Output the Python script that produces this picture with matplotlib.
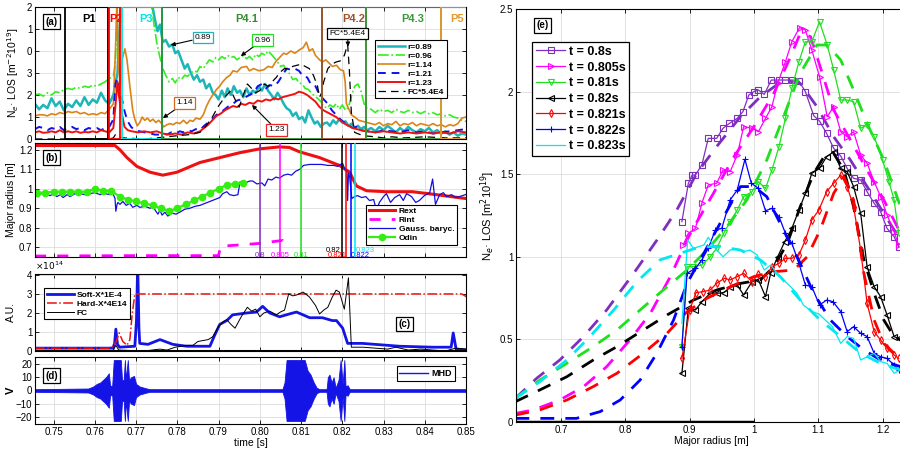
import matplotlib
matplotlib.use("Agg")
import matplotlib.pyplot as plt
from matplotlib.patches import Rectangle
import numpy as np

plt.rcParams['font.family'] = ['Liberation Sans', 'DejaVu Sans']
plt.rcParams['font.size'] = 7
plt.rcParams['axes.linewidth'] = 0.8

# ---------------- (a) line-integrated density per chord ----------------
phase_names = ['P1', 'P2', 'P3', 'P4.1', 'P4.2', 'P4.3', 'P5']
phase_start = [0.7528, 0.7634, 0.7666, 0.7763, 0.8152, 0.8257, 0.8440]
phase_end = [0.7632, 0.7661, 0.7763, 0.8152, 0.8257, 0.8440, 0.8560]
phase_colors = ['black', 'red', '#00e6e6', '#2f8f2f', '#a0522d', '#3a9a3a', '#e39a2d']
phase_label_x = [0.7585, 0.7652, 0.7725, 0.7968, 0.8228, 0.8370, 0.8478]

t_089 = [0.7455, 0.7465, 0.7475, 0.7485, 0.7495, 0.7505, 0.7515, 0.7525, 0.7535, 0.7545,
         0.7555, 0.7565, 0.7575, 0.7585, 0.7595, 0.7605, 0.7615, 0.7625, 0.7635, 0.7645,
         0.7655, 0.766, 0.7665, 0.770, 0.7735, 0.7745, 0.7752, 0.7758, 0.7765, 0.7772,
         0.778, 0.7788, 0.7795, 0.7802, 0.781, 0.7818, 0.7825, 0.7833, 0.784, 0.7848,
         0.7855, 0.7863, 0.787, 0.7878, 0.7886, 0.7893, 0.79, 0.7908, 0.7915, 0.7922,
         0.793, 0.7937, 0.7945, 0.7952, 0.796, 0.7968, 0.7975, 0.7983, 0.799, 0.7998,
         0.8005, 0.8013, 0.802, 0.8028, 0.8035, 0.8043, 0.805, 0.8058, 0.8065, 0.8073,
         0.808, 0.8088, 0.8095, 0.8103, 0.811, 0.8118, 0.8125, 0.8133, 0.814, 0.8148,
         0.8155, 0.8163, 0.817, 0.8178, 0.8185, 0.8193, 0.82, 0.8208, 0.8215, 0.8223,
         0.823, 0.8238, 0.8245, 0.8253, 0.826, 0.827, 0.828, 0.829, 0.83, 0.831,
         0.832, 0.833, 0.834, 0.835, 0.836, 0.837, 0.838, 0.839, 0.84, 0.841,
         0.842, 0.843, 0.844, 0.845, 0.846, 0.847, 0.848, 0.849, 0.85]
n_089 = [1.6, 1.35, 1.55, 1.4, 1.85, 1.5, 1.7, 1.3, 1.6, 1.45,
         1.75, 1.5, 1.9, 1.55, 1.8, 1.65, 2.1, 1.75, 1.6, 2.0,
         3.0, 5.0, 6.5, 6.5, 6.5, 5.5, 4.9, 5.2, 4.4, 4.5,
         4.2, 4.3, 3.9, 4.0, 3.6, 3.2, 3.4, 3.0, 2.7, 2.9,
         2.6, 2.7, 2.3, 2.5, 2.1, 2.0, 1.8, 2.2, 1.9, 2.3,
         2.0, 2.4, 2.1, 2.2, 1.9, 2.3, 2.0, 2.2, 2.1, 2.4,
         2.2, 2.5, 2.2, 2.0, 1.8, 2.1, 1.9, 1.6, 1.4, 1.3,
         1.05, 1.2, 0.9, 1.0, 0.75, 1.3, 1.0, 0.7, 0.8, 0.55,
         0.7, 0.75, 0.6, 0.85, 0.7, 0.9, 0.75, 0.8, 0.6, 0.7,
         0.5, 0.6, 0.45, 0.55, 0.4, 0.5, 0.35, 0.55, 0.4, 0.6,
         0.45, 0.3, 0.5, 0.35, 0.55, 0.4, 0.3, 0.45, 0.35, 0.5,
         0.3, 0.4, 0.25, 0.35, 0.2, 0.3, 0.15, 0.25, 0.2]

t_096 = [0.7455, 0.7465, 0.7475, 0.7485, 0.7495, 0.7505, 0.7515, 0.7525, 0.7535, 0.7545,
         0.7555, 0.7565, 0.7575, 0.7585, 0.7595, 0.7605, 0.7615, 0.7625, 0.7635, 0.7645,
         0.765, 0.7655, 0.7735, 0.7742, 0.775, 0.7758, 0.7765, 0.7772, 0.778, 0.7788,
         0.7795, 0.7802, 0.781, 0.7818, 0.7825, 0.7833, 0.784, 0.7848, 0.7855, 0.7863,
         0.787, 0.7878, 0.7886, 0.7893, 0.79, 0.7908, 0.7915, 0.7922, 0.793, 0.7937,
         0.7945, 0.7952, 0.796, 0.7968, 0.7975, 0.7983, 0.799, 0.7998, 0.8005, 0.8013,
         0.802, 0.8028, 0.8035, 0.8043, 0.805, 0.8058, 0.8065, 0.8073, 0.808, 0.8088,
         0.8095, 0.8103, 0.811, 0.8118, 0.8125, 0.8133, 0.814, 0.8148, 0.8155, 0.8163,
         0.817, 0.8178, 0.8185, 0.8193, 0.82, 0.8208, 0.8215, 0.8223, 0.823, 0.8238,
         0.8245, 0.8253, 0.826, 0.827, 0.828, 0.829, 0.83, 0.831, 0.832, 0.833,
         0.834, 0.835, 0.836, 0.837, 0.838, 0.839, 0.84, 0.841, 0.842, 0.843,
         0.844, 0.845, 0.846, 0.847, 0.848, 0.849, 0.85]
n_096 = [2.0, 2.05, 1.95, 2.1, 2.0, 2.15, 2.1, 2.25, 2.3, 2.25,
         2.35, 2.3, 2.4, 2.35, 2.45, 2.4, 2.5, 2.6, 2.75, 2.85,
         3.5, 6.5, 6.5, 5.4, 4.4, 3.7, 3.2, 2.9, 2.6, 2.75,
         2.55, 2.8, 2.7, 2.9, 2.85, 3.0, 3.1, 3.05, 3.3, 3.2,
         3.4, 3.6, 3.5, 3.7, 3.6, 3.75, 3.65, 3.8, 3.7, 3.75,
         3.6, 3.7, 3.8, 3.65, 3.75, 3.6, 3.85, 3.75, 3.9, 3.8,
         4.0, 3.85, 3.7, 3.5, 3.3, 3.35, 3.1, 2.95, 2.7, 2.75,
         2.55, 2.5, 2.3, 2.25, 2.1, 1.95, 1.85, 1.7, 1.5, 1.4,
         1.55, 1.45, 1.6, 1.35, 1.55, 1.3, 1.45, 2.0, 2.4, 2.5,
         2.2, 1.6, 1.4, 1.35, 1.2, 1.35, 1.25, 1.3, 1.2, 1.35,
         1.25, 1.2, 1.3, 1.2, 1.25, 1.15, 1.25, 1.15, 1.2, 1.1,
         1.15, 1.05, 1.1, 1.0, 0.95, 0.85, 0.8]

t_114 = [0.7455, 0.7465, 0.7475, 0.7485, 0.7495, 0.7505, 0.7515, 0.7525, 0.7535, 0.7545,
         0.7555, 0.7565, 0.7575, 0.7585, 0.7595, 0.7605, 0.7615, 0.7625, 0.7635, 0.7645,
         0.765, 0.7654, 0.7656, 0.7661, 0.7666, 0.7673, 0.7678, 0.7685, 0.7692, 0.7697,
         0.7703, 0.7709, 0.7715, 0.7721, 0.7728, 0.7734, 0.7741, 0.7748, 0.7755, 0.7762,
         0.7767, 0.7775, 0.7782, 0.779, 0.7798, 0.7806, 0.7815, 0.7823, 0.7831, 0.7838,
         0.7845, 0.7855, 0.7863, 0.7871, 0.7879, 0.7886, 0.7895, 0.7903, 0.791, 0.792,
         0.7928, 0.7935, 0.7945, 0.7955, 0.7968, 0.7975, 0.7985, 0.7998, 0.801, 0.802,
         0.803, 0.8038, 0.8048, 0.8058, 0.8065, 0.8075, 0.8085, 0.8096, 0.8105, 0.8113,
         0.812, 0.8128, 0.8135, 0.8145, 0.8152, 0.816, 0.8168, 0.8176, 0.8186, 0.8195,
         0.8203, 0.8207, 0.821, 0.8215, 0.8222, 0.823, 0.824, 0.825, 0.826, 0.827,
         0.828, 0.829, 0.83, 0.831, 0.832, 0.833, 0.834, 0.835, 0.836, 0.837,
         0.838, 0.839, 0.84, 0.841, 0.842, 0.843, 0.844, 0.845, 0.846, 0.847,
         0.848, 0.849, 0.85]
n_114 = [1.05, 1.1, 1.1, 1.05, 1.15, 1.1, 1.2, 1.15, 1.25, 1.2,
         1.25, 1.15, 1.2, 1.1, 1.15, 1.1, 1.2, 1.15, 1.35, 1.6,
         4.0, 6.5, 4.1, 2.4, 3.6, 4.1, 3.6, 2.4, 1.3, 0.9,
         0.6, 0.75, 1.0, 0.85, 0.95, 0.8, 0.9, 0.75, 0.85, 0.7,
         0.55, 0.65, 0.7, 0.65, 0.75, 0.7, 0.85, 0.7, 0.85, 0.8,
         0.95, 0.9, 1.1, 1.5, 1.8, 2.0, 2.25, 2.4, 2.6, 2.8,
         2.9, 3.1, 3.05, 3.25, 3.3, 3.1, 3.2, 3.1, 3.15, 3.3,
         3.25, 3.5, 3.7, 3.9, 3.85, 4.0, 3.9, 4.05, 4.15, 4.4,
         4.0, 4.1, 3.8, 3.6, 3.5, 3.6, 3.45, 3.3, 3.35, 3.15,
         3.1, 2.6, 1.6, 1.4, 1.1, 1.0, 0.85, 0.8, 0.75, 0.7,
         0.65, 0.75, 0.6, 0.7, 0.65, 0.8, 0.6, 0.7, 0.65, 0.75,
         0.6, 0.7, 0.65, 0.6, 0.7, 0.6, 0.65, 0.55, 0.65, 0.6,
         0.7, 0.95, 1.0]

t_121 = [0.7455, 0.7465, 0.7475, 0.7485, 0.7495, 0.7505, 0.7515, 0.7525, 0.7535, 0.7545,
         0.7555, 0.7565, 0.7575, 0.7585, 0.7595, 0.7605, 0.7615, 0.7625, 0.7635, 0.7645,
         0.765, 0.7654, 0.7658, 0.7666, 0.7673, 0.768, 0.7688, 0.7697, 0.7709, 0.7721,
         0.7734, 0.7746, 0.7758, 0.7765, 0.7775, 0.7785, 0.7795, 0.7806, 0.7815, 0.7825,
         0.7835, 0.7845, 0.7855, 0.7865, 0.7875, 0.7885, 0.7895, 0.7905, 0.7915, 0.7925,
         0.7935, 0.7945, 0.7955, 0.7965, 0.7975, 0.7985, 0.7995, 0.8005, 0.8015, 0.8025,
         0.8035, 0.8045, 0.8055, 0.8065, 0.8075, 0.8085, 0.8095, 0.8105, 0.8115, 0.8125,
         0.8135, 0.8145, 0.8155, 0.8165, 0.8175, 0.8185, 0.8195, 0.8205, 0.8215, 0.8225,
         0.8235, 0.8245, 0.826, 0.828, 0.83, 0.832, 0.834, 0.836, 0.838, 0.84,
         0.842, 0.844, 0.846, 0.848, 0.85]
n_121 = [0.45, 0.55, 0.5, 0.4, 0.5, 0.45, 0.55, 0.4, 0.5, 0.55,
         0.45, 0.5, 0.4, 0.5, 0.45, 0.5, 0.4, 0.5, 0.55, 0.9,
         2.5, 2.75, 2.3, 1.8, 1.2, 0.8, 0.55, 0.4, 0.35, 0.3,
         0.25, 0.2, 0.2, 0.25, 0.2, 0.3, 0.25, 0.35, 0.3, 0.4,
         0.35, 0.45, 0.4, 0.6, 0.75, 0.9, 1.1, 1.2, 1.35, 1.5,
         1.6, 1.75, 1.8, 1.9, 2.0, 2.1, 2.4, 2.5, 2.3, 2.45,
         2.4, 2.6, 2.9, 3.2, 3.15, 3.2, 3.1, 2.85, 2.8, 2.45,
         2.4, 2.0, 1.8, 1.6, 1.3, 1.1, 0.9, 0.75, 0.65, 0.5,
         0.55, 0.4, 0.35, 0.3, 0.4, 0.35, 0.3, 0.4, 0.3, 0.35,
         0.25, 0.3, 0.35, 0.4, 0.45]

t_123 = [0.7455, 0.7465, 0.7475, 0.7485, 0.7495, 0.7505, 0.7515, 0.7525, 0.7535, 0.7545,
         0.7555, 0.7565, 0.7575, 0.7585, 0.7595, 0.7605, 0.7615, 0.7625, 0.7635, 0.7645,
         0.765, 0.7655, 0.7659, 0.7664, 0.7672, 0.768, 0.769, 0.7705, 0.772, 0.7735,
         0.775, 0.7765, 0.778, 0.7795, 0.781, 0.7825, 0.784, 0.7855, 0.7865, 0.7875,
         0.7885, 0.7895, 0.7905, 0.7915, 0.7925, 0.7935, 0.7945, 0.7955, 0.7965, 0.7975,
         0.7985, 0.7995, 0.8005, 0.8015, 0.8025, 0.8035, 0.8045, 0.8055, 0.8065, 0.8075,
         0.8085, 0.8095, 0.8105, 0.8115, 0.8125, 0.8135, 0.8145, 0.8155, 0.8165, 0.8175,
         0.8185, 0.8195, 0.8205, 0.8215, 0.8225, 0.8235, 0.8245, 0.826, 0.828, 0.83,
         0.832, 0.834, 0.836, 0.838, 0.84, 0.842, 0.844, 0.846, 0.848, 0.85]
n_123 = [0.3, 0.35, 0.28, 0.3, 0.35, 0.3, 0.4, 0.3, 0.35, 0.3,
         0.35, 0.28, 0.32, 0.3, 0.35, 0.3, 0.4, 0.35, 0.3, 0.5,
         1.5, 2.6, 1.9, 1.3, 0.55, 0.4, 0.35, 0.3, 0.35, 0.3,
         0.35, 0.25, 0.2, 0.25, 0.2, 0.3, 0.25, 0.35, 0.5, 0.65,
         0.85, 1.05, 1.15, 1.3, 1.4, 1.5, 1.45, 1.6, 1.55, 1.65,
         1.6, 1.75, 1.7, 1.8, 1.75, 1.85, 1.8, 1.9, 1.95, 2.0,
         2.05, 2.15, 2.1, 2.0, 1.85, 1.7, 1.45, 1.3, 1.2, 1.1,
         1.0, 0.85, 0.7, 0.6, 0.5, 0.45, 0.4, 0.35, 0.3, 0.35,
         0.3, 0.25, 0.3, 0.25, 0.3, 0.25, 0.3, 0.25, 0.35, 0.3]

t_fca = [0.7455, 0.7635, 0.7645, 0.765, 0.7655, 0.767, 0.772, 0.775, 0.7775, 0.78,
         0.783, 0.7855, 0.787, 0.7885, 0.79, 0.7915, 0.793, 0.794, 0.795, 0.796,
         0.797, 0.798, 0.799, 0.8, 0.801, 0.802, 0.803, 0.804, 0.805, 0.806,
         0.807, 0.808, 0.809, 0.81, 0.811, 0.812, 0.813, 0.814, 0.8145, 0.815,
         0.8155, 0.8165, 0.8175, 0.8185, 0.8195, 0.8205, 0.8213, 0.8217, 0.8222, 0.823,
         0.825, 0.828, 0.83, 0.832, 0.835, 0.84, 0.845, 0.85]
n_fca = [0.0, 0.0, 0.05, 0.2, 0.1, 0.05, 0.0, 0.05, 0.1, 0.15,
         0.2, 0.3, 0.6, 1.0, 1.5, 1.9, 2.2, 1.8, 1.45, 2.0,
         2.5, 2.3, 2.1, 2.2, 2.5, 2.4, 2.6, 2.8, 3.05, 3.2,
         3.2, 3.3, 3.35, 3.4, 3.3, 3.2, 2.9, 2.4, 1.9, 2.1,
         2.6, 3.2, 3.4, 3.5, 3.55, 3.8, 4.3, 3.2, 1.2, 0.3,
         0.15, 0.1, 0.05, 0.1, 0.05, 0.1, 0.05, 0.05]

# ---------------- (b) plasma position ----------------
t_rext = [0.7455, 0.7649, 0.7661, 0.7678, 0.7702, 0.7734, 0.7765, 0.7799, 0.7855, 0.7903,
          0.7951, 0.8, 0.8048, 0.8072, 0.8096, 0.8145, 0.8193, 0.8218, 0.8234, 0.8259,
          0.8307, 0.837, 0.8428, 0.85]
rext = [1.222, 1.222, 1.2, 1.16, 1.115, 1.085, 1.07, 1.085, 1.135, 1.16,
        1.185, 1.205, 1.215, 1.212, 1.19, 1.16, 1.12, 1.085, 1.015, 0.99,
        0.985, 0.985, 0.97, 0.95]

t_rint = [0.7455, 0.7700, 0.7900, 0.7905, 0.797, 0.8, 0.8055, 0.8065]
rint = [0.655, 0.657, 0.657, 0.705, 0.715, 0.72, 0.735, 0.70]

t_gauss = [0.7455, 0.7479, 0.7492, 0.7499, 0.7508, 0.7516, 0.7523, 0.7533, 0.7540, 0.7552,
           0.7564, 0.7576, 0.7588, 0.7600, 0.7613, 0.7625, 0.7637, 0.7644, 0.7649, 0.7651,
           0.7654, 0.7656, 0.7661, 0.7668, 0.7676, 0.7685, 0.7692, 0.7702, 0.7709, 0.7722,
           0.7734, 0.7741, 0.7748, 0.7753, 0.7758, 0.7763, 0.7770, 0.7777, 0.7787, 0.7797,
           0.7806, 0.7818, 0.7830, 0.7843, 0.7855, 0.7867, 0.7879, 0.7891, 0.7903, 0.7910,
           0.7920, 0.7927, 0.7937, 0.7947, 0.7952, 0.7964, 0.7976, 0.7983, 0.7993, 0.8005,
           0.8012, 0.8020, 0.8029, 0.8039, 0.8048, 0.8058, 0.8068, 0.8077, 0.8087, 0.8097,
           0.8106, 0.8121, 0.8136, 0.8150, 0.8165, 0.8179, 0.8189, 0.8196, 0.8201, 0.8206,
           0.8211, 0.8213, 0.8215, 0.8218, 0.8223, 0.8230, 0.8237, 0.8247, 0.8257, 0.8266,
           0.8276, 0.8283, 0.8290, 0.8300, 0.8307, 0.8317, 0.8327, 0.8339, 0.8348, 0.8356,
           0.8368, 0.8378, 0.8387, 0.8399, 0.8412, 0.8419, 0.8426, 0.8436, 0.8445, 0.8453,
           0.8465, 0.8474, 0.8484, 0.8499]
r_gauss = [0.975, 0.975, 0.965, 0.975, 0.96, 0.97, 0.955, 0.97, 0.96, 0.975,
           0.975, 0.97, 0.975, 0.98, 0.97, 0.975, 0.97, 0.975, 0.95, 0.885,
           0.92, 0.93, 0.92, 0.935, 0.915, 0.925, 0.905, 0.915, 0.905, 0.91,
           0.9, 0.91, 0.885, 0.87, 0.89, 0.865, 0.88, 0.86, 0.875, 0.87,
           0.88, 0.895, 0.9, 0.91, 0.915, 0.925, 0.935, 0.945, 0.955, 0.975,
           0.985, 0.97, 0.965, 0.97, 1.035, 1.03, 1.04, 1.04, 1.025, 1.03,
           1.015, 1.05, 1.045, 1.06, 1.055, 1.07, 1.075, 1.07, 1.09, 1.1,
           1.12, 1.125, 1.125, 1.125, 1.12, 1.12, 1.115, 1.125, 1.13, 1.1,
           1.09, 0.94, 1.08, 1.06, 0.95, 0.96, 0.965, 0.955, 0.96, 0.94,
           0.945, 0.89, 0.93, 0.96, 0.975, 0.93, 0.955, 0.97, 0.94, 0.975,
           0.96, 0.93, 0.94, 0.965, 0.98, 1.05, 0.92, 0.97, 0.98, 0.96,
           0.97, 0.955, 0.96, 0.97]

t_odin = [0.746, 0.748, 0.750, 0.752, 0.754, 0.756, 0.758, 0.760, 0.762, 0.764,
          0.766, 0.768, 0.770, 0.772, 0.774, 0.776, 0.778, 0.780, 0.782, 0.784,
          0.786, 0.788, 0.790, 0.792, 0.794, 0.796]
r_odin = [0.98, 0.98, 0.985, 0.985, 0.985, 0.985, 0.985, 1.0, 0.99, 0.99,
          0.96, 0.945, 0.935, 0.925, 0.915, 0.9, 0.885, 0.9, 0.92, 0.94,
          0.96, 0.98, 1.0, 1.02, 1.025, 1.03]

# profile times marked in (b) and plotted in (e)
prof_times = [0.8, 0.805, 0.81, 0.82, 0.821, 0.822, 0.823]
prof_labels = ['0.8', '0.805', '0.81', '0.82', '0.821', '0.822', '0.823']
prof_colors = ['#7f2fbf', '#ff00ff', '#1fe01f', 'black', '#ff0000', '#0000ff', '#00e8f0']

# ---------------- (c) X-ray and FC ----------------
t_soft = [0.7455, 0.7644, 0.7648, 0.7651, 0.7655, 0.766, 0.7697, 0.7701, 0.7704, 0.7707,
          0.7709, 0.7729, 0.7758, 0.7789, 0.7823, 0.7879, 0.789, 0.7903, 0.792, 0.7934,
          0.7968, 0.7992, 0.8007, 0.8024, 0.8048, 0.8072, 0.8089, 0.8121, 0.8152, 0.8176,
          0.8186, 0.8201, 0.8213, 0.8249, 0.8339, 0.8419, 0.8464, 0.8469, 0.8476, 0.8505]
soft = [0.15, 0.15, 0.4, 1.15, 0.35, 0.2, 0.25, 1.6, 4.6, 1.2,
        0.4, 0.35, 0.6, 0.35, 0.25, 0.25, 0.8, 1.4, 1.6, 1.9,
        2.0, 2.05, 2.35, 2.0, 1.8, 1.95, 2.05, 1.75, 1.75, 1.6,
        1.6, 1.2, 0.4, 0.4, 0.25, 0.2, 0.2, 0.95, 0.1, 0.05]

t_hard = [0.7455, 0.764, 0.7652, 0.7659, 0.7668, 0.7678, 0.7685, 0.769, 0.7697, 0.849, 0.8505]
hard = [0.15, 0.15, 0.5, 0.95, 0.5, 0.3, 0.6, 1.8, 3.0, 3.0, 2.8]

t_fc = [0.7455, 0.7644, 0.7651, 0.7658, 0.772, 0.7758, 0.7775, 0.7795, 0.781, 0.7823,
        0.7838, 0.785, 0.7862, 0.7875, 0.7886, 0.79, 0.7912, 0.792, 0.793, 0.794,
        0.7955, 0.797, 0.798, 0.799, 0.8, 0.801, 0.8024, 0.804, 0.805, 0.806,
        0.807, 0.808, 0.809, 0.8105, 0.812, 0.8135, 0.8145, 0.8155, 0.8165, 0.8175,
        0.8185, 0.8193, 0.8205, 0.8215, 0.8222, 0.825, 0.828, 0.831, 0.833, 0.836,
        0.839, 0.842, 0.845, 0.8475, 0.85]
fc = [0.0, 0.0, 0.3, 0.05, 0.0, 0.1, 0.05, 0.2, 0.25, 0.3,
      0.3, 0.5, 0.55, 0.6, 0.75, 1.3, 1.55, 1.65, 1.4, 1.2,
      1.8, 2.3, 2.1, 2.2, 1.8, 2.0, 2.1, 1.9, 2.05, 2.15,
      3.0, 2.9, 2.95, 3.1, 2.85, 2.4, 1.95, 2.15, 2.3, 2.8,
      3.2, 3.1, 2.2, 3.85, 0.2, 0.2, 0.15, 0.1, 0.2, 0.05,
      0.1, 0.05, 0.0, 0.15, 0.1]

# ---------------- (d) MHD coil (envelope) ----------------
t_mhd = [0.7455, 0.7584, 0.7596, 0.7605, 0.7613, 0.762, 0.7627, 0.7634, 0.7637, 0.7642,
         0.7646, 0.7663, 0.7666, 0.767, 0.7673, 0.7675, 0.768, 0.7683, 0.7688, 0.7695,
         0.77, 0.7709, 0.7726, 0.7734, 0.8055, 0.806, 0.8065, 0.8109, 0.8116, 0.8123,
         0.8131, 0.8138, 0.8145, 0.8162, 0.8165, 0.8169, 0.8174, 0.8179, 0.8184, 0.8191,
         0.8196, 0.8201, 0.8205, 0.8208, 0.8213, 0.8218, 0.85]
a_mhd = [1.0, 1.5, 3.0, 5.0, 6.0, 8.0, 10.0, 13.0, 4.0, 3.0,
         23.0, 23.0, 8.0, 8.0, 23.0, 8.0, 23.0, 8.0, 10.0, 11.0,
         5.0, 3.0, 1.5, 1.0, 1.0, 6.0, 23.0, 23.0, 15.0, 12.0,
         6.0, 2.0, 1.0, 1.0, 10.0, 12.0, 6.0, 10.0, 2.0, 8.0,
         23.0, 5.0, 23.0, 3.0, 4.0, 1.0, 1.0]

# ---------------- (e) density profiles ----------------
r_08 = [0.888, 0.898, 0.904, 0.909, 0.919, 0.929, 0.942, 0.952, 0.962, 0.974, 0.983, 0.992,
        1.0, 1.007, 1.016, 1.027, 1.039, 1.049, 1.059, 1.070, 1.080, 1.093, 1.102, 1.113,
        1.124, 1.135, 1.145, 1.155, 1.166, 1.176, 1.187, 1.197, 1.207, 1.218, 1.225]
n_08 = [1.213, 1.445, 1.495, 1.495, 1.556, 1.717, 1.717, 1.778, 1.808, 1.838, 1.879, 1.979,
        2.0, 2.01, 1.983, 2.07, 2.07, 2.07, 2.07, 2.064, 2.0, 1.854, 1.822, 1.747,
        1.657, 1.61, 1.535, 1.475, 1.465, 1.394, 1.324, 1.273, 1.172, 1.122, 1.061]
rf_08 = [0.629, 0.662, 0.698, 0.735, 0.771, 0.813, 0.849, 0.88, 0.911, 0.942, 0.979, 1.010,
         1.046, 1.072, 1.098, 1.124, 1.150, 1.176, 1.202, 1.228]
nf_08 = [0.143, 0.264, 0.375, 0.517, 0.678, 0.9, 1.10, 1.283, 1.505, 1.667, 1.848, 1.969,
         2.07, 2.05, 1.909, 1.727, 1.586, 1.425, 1.263, 1.10]

r_0805 = [0.890, 0.898, 0.909, 0.919, 0.929, 0.942, 0.952, 0.963, 0.974, 0.984, 0.997, 1.007,
          1.018, 1.028, 1.037, 1.049, 1.059, 1.071, 1.080, 1.090, 1.102, 1.114, 1.124, 1.135,
          1.145, 1.155, 1.166, 1.176, 1.187, 1.197, 1.207, 1.218, 1.225]
n_0805 = [1.071, 1.142, 1.172, 1.324, 1.435, 1.445, 1.525, 1.515, 1.616, 1.788, 1.778, 1.757,
          1.838, 1.909, 2.05, 2.181, 2.302, 2.387, 2.373, 2.252, 2.09, 1.848, 1.909, 1.757,
          1.727, 1.757, 1.616, 1.566, 1.455, 1.364, 1.253, 1.152, 1.071]
rf_0805 = [0.629, 0.657, 0.698, 0.735, 0.771, 0.807, 0.839, 0.87, 0.901, 0.937, 0.969, 1.0,
           1.031, 1.057, 1.072, 1.088, 1.103, 1.124, 1.150, 1.176, 1.202, 1.228]
nf_0805 = [0.052, 0.073, 0.133, 0.214, 0.335, 0.496, 0.658, 0.880, 1.142, 1.384, 1.606, 1.788,
           1.990, 2.211, 2.353, 2.333, 2.151, 1.889, 1.707, 1.525, 1.344, 1.142]

r_081 = [0.888, 0.896, 0.906, 0.919, 0.932, 0.942, 0.953, 0.963, 0.974, 0.984, 0.997, 1.007,
         1.018, 1.028, 1.039, 1.049, 1.059, 1.070, 1.080, 1.090, 1.102, 1.114, 1.124, 1.135,
         1.145, 1.155, 1.166, 1.176, 1.187, 1.2, 1.210, 1.218, 1.225]
n_081 = [0.456, 0.940, 0.940, 0.950, 1.0, 1.051, 1.142, 1.213, 1.283, 1.364, 1.394, 1.455,
         1.414, 1.525, 1.667, 1.838, 2.020, 2.181, 2.302, 2.302, 2.423, 2.282, 2.131, 1.949,
         1.949, 1.939, 1.778, 1.798, 1.727, 1.586, 1.455, 1.344, 1.142]
rf_081 = [0.629, 0.667, 0.709, 0.750, 0.787, 0.823, 0.859, 0.896, 0.927, 0.958, 0.989, 1.020,
          1.046, 1.072, 1.098, 1.114, 1.135, 1.155, 1.176, 1.202, 1.228]
nf_081 = [0.143, 0.254, 0.355, 0.456, 0.557, 0.678, 0.799, 0.920, 1.041, 1.182, 1.344, 1.586,
          1.848, 2.111, 2.282, 2.282, 2.191, 2.010, 1.808, 1.586, 1.303]

r_082 = [0.888, 0.898, 0.909, 0.919, 0.932, 0.942, 0.953, 0.963, 0.974, 0.984, 0.997, 1.007,
         1.018, 1.026, 1.037, 1.048, 1.059, 1.070, 1.080, 1.090, 1.102, 1.113, 1.124, 1.135,
         1.145, 1.155, 1.166, 1.176, 1.187, 1.197, 1.207, 1.218, 1.225]
n_082 = [0.295, 0.688, 0.678, 0.728, 0.779, 0.779, 0.783, 0.815, 0.829, 0.769, 0.849, 0.860,
         0.759, 0.900, 1.001, 1.092, 1.172, 1.283, 1.384, 1.505, 1.535, 1.606, 1.636, 1.535,
         1.515, 1.425, 1.263, 0.940, 0.819, 0.759, 0.648, 0.517, 0.506]
rf_082 = [0.629, 0.667, 0.709, 0.750, 0.787, 0.828, 0.865, 0.906, 0.942, 0.979, 1.010, 1.031,
          1.052, 1.072, 1.093, 1.109, 1.124, 1.140, 1.155, 1.171, 1.187, 1.202, 1.218, 1.228]
nf_082 = [0.123, 0.194, 0.274, 0.375, 0.456, 0.557, 0.648, 0.738, 0.799, 0.839, 0.860, 0.940,
          1.082, 1.303, 1.505, 1.606, 1.626, 1.525, 1.303, 0.981, 0.779, 0.617, 0.517, 0.496]

r_0821 = [0.888, 0.900, 0.910, 0.921, 0.932, 0.942, 0.954, 0.963, 0.974, 0.984, 0.997, 1.007,
          1.018, 1.028, 1.039, 1.049, 1.059, 1.070, 1.080, 1.090, 1.101, 1.113, 1.124, 1.135,
          1.145, 1.155, 1.166, 1.176, 1.187, 1.197, 1.207, 1.218, 1.225]
n_0821 = [0.385, 0.678, 0.783, 0.789, 0.799, 0.839, 0.870, 0.860, 0.880, 0.900, 0.849, 0.894,
          0.880, 0.940, 0.960, 0.991, 0.991, 1.011, 1.102, 1.223, 1.283, 1.394, 1.445, 1.495,
          1.425, 1.303, 1.041, 0.718, 0.547, 0.496, 0.446, 0.406, 0.385]
rf_0821 = [0.629, 0.667, 0.709, 0.750, 0.787, 0.828, 0.865, 0.896, 0.927, 0.969, 1.0, 1.031,
           1.062, 1.083, 1.103, 1.124, 1.140, 1.155, 1.171, 1.187, 1.202, 1.218, 1.228]
nf_0821 = [0.042, 0.073, 0.133, 0.214, 0.295, 0.416, 0.537, 0.668, 0.749, 0.829, 0.880, 0.910,
           0.920, 1.001, 1.162, 1.384, 1.485, 1.344, 0.900, 0.617, 0.476, 0.416, 0.385]

r_0822 = [0.888, 0.896, 0.909, 0.919, 0.929, 0.940, 0.950, 0.963, 0.974, 0.986, 0.996, 1.007,
          1.018, 1.028, 1.039, 1.049, 1.059, 1.070, 1.080, 1.090, 1.102, 1.113, 1.123, 1.135,
          1.145, 1.155, 1.166, 1.176, 1.187, 1.197, 1.207, 1.218, 1.225]
n_0822 = [0.456, 0.900, 0.930, 0.981, 1.051, 1.162, 1.172, 1.344, 1.404, 1.590, 1.445, 1.414,
          1.279, 1.293, 1.243, 1.142, 1.082, 0.960, 0.829, 0.819, 0.708, 0.738, 0.728, 0.668,
          0.547, 0.577, 0.537, 0.517, 0.416, 0.395, 0.385, 0.345, 0.315]
rf_0822 = [0.629, 0.683, 0.724, 0.761, 0.792, 0.823, 0.849, 0.875, 0.896, 0.922, 0.953, 0.979,
           1.0, 1.020, 1.046, 1.072, 1.093, 1.119, 1.145, 1.171, 1.197, 1.228]
nf_0822 = [0.022, 0.022, 0.022, 0.063, 0.133, 0.254, 0.416, 0.617, 0.839, 1.021, 1.243, 1.425,
           1.425, 1.364, 1.162, 0.960, 0.779, 0.617, 0.517, 0.436, 0.375, 0.335]

r_0823 = [0.888, 0.897, 0.906, 0.922, 0.929, 0.940, 0.952, 0.963, 0.974, 0.984, 0.994, 1.005,
          1.016, 1.026, 1.036, 1.046, 1.057, 1.067, 1.077, 1.090, 1.101, 1.111, 1.122, 1.135,
          1.145, 1.155, 1.166, 1.176, 1.187, 1.197, 1.207, 1.218, 1.228]
n_0823 = [0.597, 1.102, 1.051, 1.071, 1.118, 1.051, 1.0, 1.041, 1.045, 1.031, 1.041, 1.011,
          0.920, 0.950, 0.900, 0.860, 0.819, 0.779, 0.708, 0.668, 0.654, 0.617, 0.577, 0.476,
          0.517, 0.506, 0.375, 0.395, 0.416, 0.365, 0.355, 0.295, 0.315]
rf_0823 = [0.629, 0.667, 0.709, 0.745, 0.782, 0.818, 0.854, 0.885, 0.917, 0.948, 0.979, 1.010,
           1.041, 1.072, 1.103, 1.135, 1.166, 1.197, 1.228]
nf_0823 = [0.143, 0.244, 0.375, 0.517, 0.678, 0.849, 0.981, 1.021, 1.061, 1.061, 1.041, 0.981,
           0.880, 0.738, 0.617, 0.517, 0.416, 0.355, 0.315]

prof_r = [r_08, r_0805, r_081, r_082, r_0821, r_0822, r_0823]
prof_n = [n_08, n_0805, n_081, n_082, n_0821, n_0822, n_0823]
fit_r = [rf_08, rf_0805, rf_081, rf_082, rf_0821, rf_0822, rf_0823]
fit_n = [nf_08, nf_0805, nf_081, nf_082, nf_0821, nf_0822, nf_0823]
prof_markers = ['s', '>', 'v', '<', 'd', '+', None]


def style(ax):
    ax.grid(True, color='#dddddd', lw=0.6)
    ax.set_axisbelow(True)
    ax.tick_params(direction='in', length=3, width=0.6, top=True, right=True,
                   labelsize=7, pad=2)


def tag(ax, s, x, y):
    ax.text(x, y, s, transform=ax.transAxes, fontsize=7, fontweight='bold',
            ha='center', va='center', zorder=10,
            bbox=dict(boxstyle='square,pad=0.25', fc='white', ec='black', lw=0.9))


fig = plt.figure(figsize=(9, 4.51), dpi=100)
W, H = 900.0, 451.0
ax_a = fig.add_axes([35 / W, 1 - 139 / H, 431 / W, 132 / H])
ax_b = fig.add_axes([35 / W, 1 - 257 / H, 431 / W, 114 / H])
ax_c = fig.add_axes([35 / W, 1 - 351 / H, 431 / W, 77 / H])
ax_d = fig.add_axes([35 / W, 1 - 424 / H, 431 / W, 67 / H])
ax_e = fig.add_axes([516 / W, 1 - 422 / H, 390 / W, 413 / H])

tlim = (0.7455, 0.85)
tticks = [0.75, 0.76, 0.77, 0.78, 0.79, 0.8, 0.81, 0.82, 0.83, 0.84, 0.85]
for ax in (ax_a, ax_b, ax_c, ax_d):
    style(ax)
    ax.set_xlim(*tlim)
    ax.set_xticks(tticks)
for ax in (ax_a, ax_b, ax_c):
    ax.set_xticklabels([])

# ---- (a)
ax_a.plot(t_089, n_089, color='#1cb5b8', lw=1.8, label='r=0.89')
ax_a.plot(t_096, n_096, color='#33ee22', lw=1.2, ls='-.', label='r=0.96')
ax_a.plot(t_114, n_114, color='#da8418', lw=1.2, label='r=1.14')
ax_a.plot(t_121, n_121, color='#1010ee', lw=1.4, ls=(0, (4, 3)), label='r=1.21')
ax_a.plot(t_123, n_123, color='#ee1111', lw=1.4, label='r=1.23')
ax_a.plot(t_fca, n_fca, color='black', lw=0.9, ls=(0, (6, 4)), label='FC*5.4E4')
for name, t0, t1, c, tx in zip(phase_names, phase_start, phase_end, phase_colors, phase_label_x):
    ax_a.add_patch(Rectangle((t0, 0.02), t1 - t0, 5.96, fill=False, ec=c, lw=1.3, zorder=4))
    ax_a.text(tx, 5.45, name, color=c, fontsize=8, fontweight='bold', ha='center', va='center')
ax_a.set_ylim(0, 6)
ax_a.set_yticks([0, 1, 2, 3, 4, 5, 6])
ax_a.set_yticklabels(['0', '1', '2', '3', '0', '1', '2'])
ax_a.set_ylabel('N$_e$· LOS [m$^{-2}$10$^{19}$]', fontsize=7.5, labelpad=2)
ax_a.yaxis.set_label_coords(-0.033, 0.5)
tag(ax_a, '(a)', 0.038, 0.89)
arrow = dict(arrowstyle='-|>', color='black', lw=0.8, mutation_scale=6, shrinkA=0, shrinkB=0)
for txt, xy, xyt, ec in [('0.89', (0.7784, 4.27), (0.7862, 4.6), '#1cb5b8'),
                         ('0.96', (0.7954, 3.77), (0.8007, 4.5), '#22dd22'),
                         ('1.14', (0.7765, 0.95), (0.7818, 1.64), '#d2691e'),
                         ('1.23', (0.7981, 1.55), (0.8041, 0.41), '#ee2222'),
                         ('FC*5.4E4', (0.8214, 4.2), (0.8213, 4.8), 'black')]:
    ax_a.annotate(txt, xy=xy, xytext=xyt, fontsize=6, ha='center', va='center', zorder=9,
                  arrowprops=arrow,
                  bbox=dict(boxstyle='square,pad=0.25', fc='white', ec=ec, lw=0.9))
leg = ax_a.legend(loc='upper left', bbox_to_anchor=(0.78, 0.78),
                  prop={'weight': 'bold', 'size': 6}, frameon=True, fancybox=False,
                  edgecolor='black', framealpha=1, handlelength=3.2, labelspacing=0.15,
                  borderpad=0.3, handletextpad=0.4)
leg.get_frame().set_linewidth(0.8)

# ---- (b)
ax_b.plot(t_rext, rext, color='#ee1111', lw=2.2, label='Rext')
ax_b.plot(t_rint, rint, color='#ff00ff', lw=2.0, ls=(0, (4, 4)), label='Rint')
ax_b.plot(t_gauss, r_gauss, color='#1010dd', lw=0.9, label='Gauss. baryc.')
ax_b.plot(t_odin, r_odin, color='#33ee11', lw=1.6, marker='o', ms=4.5, label='Odin')
for tp, lab, c in zip(prof_times, prof_labels, prof_colors):
    ax_b.axvline(tp, color=c, lw=1.1, zorder=3)
    if lab in ('0.82', '0.823'):
        ax_b.text(tp + (-0.0004 if lab == '0.82' else 0.0003), 0.685, lab, color=c,
                  fontsize=5.5, ha='right' if lab == '0.82' else 'left', va='center')
    else:
        ha = 'right' if lab == '0.821' else ('left' if lab == '0.822' else 'center')
        ax_b.text(tp, 0.657, lab, color=c, fontsize=5.5, ha=ha, va='center')
ax_b.set_ylim(0.65, 1.235)
ax_b.set_yticks([0.7, 0.8, 0.9, 1.0, 1.1, 1.2])
ax_b.set_yticklabels(['0.7', '0.8', '0.9', '1', '1.1', '1.2'])
ax_b.set_ylabel('Major radius [m]', fontsize=7.5)
ax_b.yaxis.set_label_coords(-0.045, 0.5)
tag(ax_b, '(b)', 0.038, 0.87)
leg = ax_b.legend(loc='lower right', bbox_to_anchor=(0.988, 0.07),
                  prop={'weight': 'bold', 'size': 6}, fancybox=False, edgecolor='black',
                  framealpha=1, handlelength=3.2, labelspacing=0.15, borderpad=0.3,
                  handletextpad=0.4)
leg.get_frame().set_linewidth(0.8)

# ---- (c)
ax_c.plot(t_soft, soft, color='#1414e6', lw=2.0, label='Soft-X*1E-4')
ax_c.plot(t_hard, hard, color='#ee1111', lw=1.1, ls='-.', label='Hard-X*4E14')
ax_c.plot(t_fc, fc, color='black', lw=0.7, label='FC')
ax_c.axhline(0, color='black', lw=2.2, zorder=5)
ax_c.set_ylim(0, 4.05)
ax_c.set_yticks([0, 1, 2, 3, 4])
ax_c.set_ylabel('A.U.', fontsize=7.5)
ax_c.yaxis.set_label_coords(-0.045, 0.5)
ax_c.text(0.0, 1.02, r'$\times10^{14}$', transform=ax_c.transAxes, fontsize=6.5,
          ha='left', va='bottom')
tag(ax_c, '(c)', 0.858, 0.35)
leg = ax_c.legend(loc='upper left', bbox_to_anchor=(0.012, 0.87),
                  prop={'weight': 'bold', 'size': 6}, fancybox=False, edgecolor='black',
                  framealpha=1, handlelength=3.2, labelspacing=0.15, borderpad=0.3,
                  handletextpad=0.4)
leg.get_frame().set_linewidth(0.8)

# ---- (d)
a = np.array(a_mhd)
ax_d.fill_between(t_mhd, -a, a, color='#1414e6', lw=0.6, label='MHD')
ax_d.set_ylim(-25.3, 25.3)
ax_d.set_yticks([-20, -10, 0, 10, 20])
ax_d.set_ylabel('V', fontsize=8, fontweight='bold')
ax_d.yaxis.set_label_coords(-0.045, 0.5)
ax_d.set_xlabel('time [s]', fontsize=7.5, labelpad=1)
tag(ax_d, '(d)', 0.038, 0.72)
mhd_handle = plt.Line2D([], [], color='#1414e6', lw=1)
leg = ax_d.legend([mhd_handle], ['MHD'], loc='upper right', bbox_to_anchor=(0.985, 0.93),
                  prop={'weight': 'bold', 'size': 6.5}, fancybox=False, edgecolor='black',
                  framealpha=1, handlelength=3.2, borderpad=0.3, handletextpad=0.4)
leg.get_frame().set_linewidth(0.8)

# ---- (e)
style(ax_e)
ax_e.tick_params(right=False)
ax_e.spines['right'].set_visible(False)
for r, n, rf, nf, c, m, tp in zip(prof_r, prof_n, fit_r, fit_n, prof_colors, prof_markers, prof_times):
    ax_e.plot(rf, nf, color=c, lw=2.0, ls=(0, (5, 4)))
    ax_e.plot(r, n, color=c, lw=0.9, marker=m, ms=4, mfc='none', mew=0.8,
              label='t = %gs' % tp)
ax_e.hlines(0, 0.63, 1.0, color='black', lw=2.5, zorder=5)
ax_e.set_xlim(0.63, 1.2365)
ax_e.set_ylim(0, 2.5)
ax_e.set_xticks([0.7, 0.8, 0.9, 1.0, 1.1, 1.2])
ax_e.set_xticklabels(['0.7', '0.8', '0.9', '1', '1.1', '1.2'])
ax_e.set_yticks([0, 0.5, 1, 1.5, 2, 2.5])
ax_e.set_yticklabels(['0', '0.5', '1', '1.5', '2', '2.5'])
ax_e.set_xlabel('Major radius [m]', fontsize=7.5, labelpad=1)
ax_e.set_ylabel('N$_e$· LOS [m$^{2}$10$^{19}$]', fontsize=8, labelpad=2)
tag(ax_e, '(e)', 0.067, 0.961)
leg = ax_e.legend(loc='upper left', bbox_to_anchor=(0.026, 0.935),
                  prop={'weight': 'bold', 'size': 9}, fancybox=False, edgecolor='black',
                  framealpha=1, handlelength=2.3, labelspacing=0.3, borderpad=0.3,
                  handletextpad=0.3)
leg.get_frame().set_linewidth(0.9)

fig.savefig('out.png', dpi=100)
